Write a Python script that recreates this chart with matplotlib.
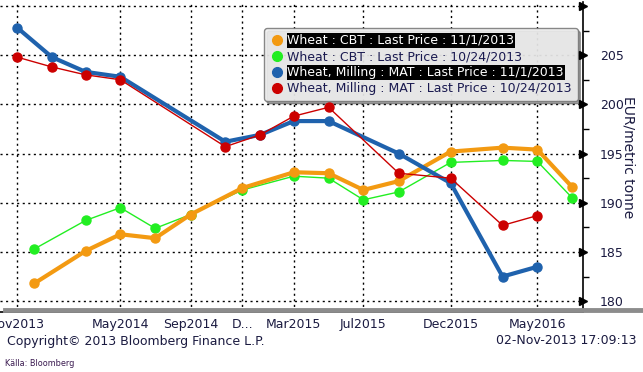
import numpy as np
import pandas as pd
import matplotlib
matplotlib.use("Agg")
import matplotlib.pyplot as plt
from matplotlib.lines import Line2D
from matplotlib.transforms import blended_transform_factory

# contract months (CBT wheat and MATIF milling wheat)
cbt_months = ['2013-12', '2014-03', '2014-05', '2014-07', '2014-09', '2014-12', '2015-03',
              '2015-05', '2015-07', '2015-09', '2015-12', '2016-03', '2016-05', '2016-07']
mat_months = ['2013-11', '2014-01', '2014-03', '2014-05', '2014-11', '2015-01', '2015-03',
              '2015-05', '2015-09', '2015-12', '2016-03', '2016-05']

cbt_nov1 = [181.8, 185.1, 186.8, 186.4, 188.8, 191.5, 193.1, 193.0, 191.3, 192.2, 195.2, 195.6, 195.4, 191.6]
cbt_oct24 = [185.3, 188.2, 189.5, 187.4, 188.8, 191.3, 192.7, 192.5, 190.3, 191.1, 194.1, 194.3, 194.2, 190.5]
mat_nov1 = [207.8, 204.8, 203.3, 202.8, 196.2, 196.9, 198.3, 198.3, 195.0, 192.0, 182.5, 183.5]
mat_oct24 = [204.8, 203.8, 203.0, 202.5, 195.7, 196.9, 198.8, 199.7, 193.0, 192.5, 187.7, 188.7]

tick_months = ['2013-11', '2014-05', '2014-09', '2014-12', '2015-03', '2015-07', '2015-12', '2016-05']
tick_labels = ['Nov2013', 'May2014', 'Sep2014', 'D...', 'Mar2015', 'Jul2015', 'Dec2015', 'May2016']

labels = ['Wheat : CBT : Last Price : 11/1/2013',
          'Wheat : CBT : Last Price : 10/24/2013',
          'Wheat, Milling : MAT : Last Price : 11/1/2013',
          'Wheat, Milling : MAT : Last Price : 10/24/2013']
colors = ['#f39a12', '#22ee22', '#1f62ad', '#cc0000']


def to_dates(months):
    return pd.to_datetime([m + '-15' for m in months])


fig = plt.figure(figsize=(6.43, 3.72), dpi=100)
ax = fig.add_axes([0, 60 / 372, 583 / 643, 310 / 372])

ax.plot(to_dates(cbt_months), cbt_oct24, color=colors[1], lw=1.0, marker='o', ms=6.5, zorder=3)
ax.plot(to_dates(cbt_months), cbt_nov1, color=colors[0], lw=3.0, marker='o', ms=6.5, zorder=4)
ax.plot(to_dates(mat_months), mat_nov1, color=colors[2], lw=3.0, marker='o', ms=6.5, zorder=5)
ax.plot(to_dates(mat_months), mat_oct24, color=colors[3], lw=1.0, marker='o', ms=6.5, zorder=6)

ax.set_xlim(pd.Timestamp('2013-10-16'), pd.Timestamp('2016-08-03'))
ax.set_ylim(178.9, 210.4)

# x axis
ax.set_xticks(to_dates(tick_months))
ax.set_xticklabels(tick_labels, fontsize=9, color='#1a1a40')
ax.tick_params(axis='x', length=0, pad=4)

# y axis on the right
ax.yaxis.tick_right()
ax.set_yticks(np.arange(180, 211, 5))
ax.set_yticks(np.arange(182.5, 210, 5), minor=True)
ax.set_yticklabels(['180', '185', '190', '195', '200', '205', ''], fontsize=9, color='#1a1a40')
ax.tick_params(axis='y', which='major', length=0, pad=12)
ax.tick_params(axis='y', which='minor', length=4, width=1, direction='out')
ax.set_ylabel('EUR/metric tonne', rotation=270, fontsize=10, color='#1a1a40', va='center')
ax.yaxis.set_label_coords(1.078, 0.5)

# arrow heads for major ticks
tr = blended_transform_factory(ax.transAxes, ax.transData)
ax.plot([1.0] * 7, np.arange(180, 211, 5), linestyle='none', marker='>', ms=6,
        color='black', transform=tr, clip_on=False, zorder=10)

ax.grid(True, which='major', color='black', linestyle=(0, (1.5, 2.5)), lw=1.0)
for s in ['left', 'top']:
    ax.spines[s].set_visible(False)
ax.spines['right'].set_linewidth(1.2)
ax.spines['bottom'].set_linewidth(1.2)

# gray band above the bottom spine
fig.add_artist(Line2D([5 / 643, 1.0], [62.5 / 372, 62.5 / 372], color='#8c8c8c', lw=3.5))

# legend
handles = [Line2D([], [], linestyle='none', marker='o', ms=7, color=c) for c in colors]
leg = ax.legend(handles, labels, loc='upper left', bbox_to_anchor=(258 / 583, 1 - 20 / 310),
                fontsize=9, frameon=True, fancybox=True, framealpha=0.88, facecolor='#f0f0f0',
                edgecolor='#777777', shadow=True, handletextpad=0.2, labelspacing=0.25,
                borderpad=0.45, handlelength=1.2)
for i, t in enumerate(leg.get_texts()):
    if i in (0, 2):
        t.set_color('white')
        t.set_bbox(dict(facecolor='black', edgecolor='none', pad=0.5))
    else:
        t.set_color('#1a1a50')

fig.text(7 / 643, 1 - 341 / 372, 'Copyright\u00a9 2013 Bloomberg Finance L.P.', fontsize=9,
         color='#1a1a40', va='center')
fig.text(636 / 643, 1 - 341 / 372, '02-Nov-2013 17:09:13', fontsize=9, color='#1a1a40',
         va='center', ha='right')
fig.text(5 / 643, 1 - 364 / 372, 'K\u00e4lla: Bloomberg', fontsize=6.5, color='#3a1a50',
         va='center', fontstretch='condensed')

fig.savefig('out.png', dpi=100)
